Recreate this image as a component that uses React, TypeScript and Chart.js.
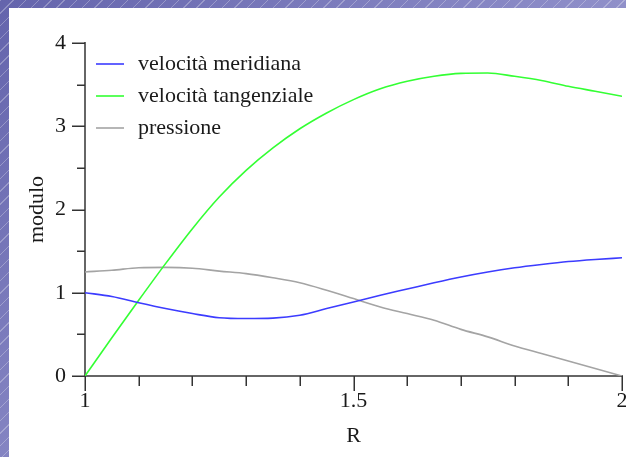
import React, { useEffect, useRef } from "react";
import { Chart, registerables } from "chart.js";

Chart.register(...registerables);

// ---- data ----
const R = [1.0, 1.05, 1.1, 1.15, 1.2, 1.25, 1.3, 1.35, 1.4, 1.45, 1.5, 1.55, 1.6, 1.65, 1.7, 1.75, 1.8, 1.85, 1.9, 1.95, 2.0];
const velMeridiana = [1.0, 0.955, 0.88, 0.81, 0.75, 0.7, 0.69, 0.695, 0.73, 0.81, 0.89, 0.97, 1.045, 1.12, 1.19, 1.25, 1.3, 1.34, 1.375, 1.4, 1.42];
const velTangenziale = [0, 0.46, 0.91, 1.35, 1.77, 2.15, 2.47, 2.74, 2.97, 3.16, 3.32, 3.45, 3.54, 3.6, 3.635, 3.64, 3.6, 3.55, 3.48, 3.42, 3.36];
const pressione = [1.25, 1.27, 1.3, 1.305, 1.295, 1.26, 1.23, 1.18, 1.12, 1.03, 0.93, 0.83, 0.75, 0.67, 0.56, 0.47, 0.36, 0.27, 0.18, 0.09, 0.0];
const SERIES_LABELS = ["velocità meridiana", "velocità tangenziale", "pressione"];
const SERIES_COLORS = ["#3c3cff", "#33ff33", "#a4a4a4"];
const X_MAJOR = [1, 1.5, 2];
const X_MINOR = [1.1, 1.2, 1.3, 1.4, 1.6, 1.7, 1.8, 1.9];
const Y_MAJOR = [0, 1, 2, 3, 4];
const Y_MINOR = [0.5, 1.5, 2.5, 3.5];
const X_TITLE = "R";
const Y_TITLE = "modulo";

const FONT = '"Liberation Serif", "Times New Roman", serif';
const TEXT_COLOR = "#1a1a1a";

const tickMarksPlugin = {
  id: "tickMarks",
  afterDraw(chart: any) {
    const { ctx, chartArea, scales } = chart;
    const x = scales.x;
    const y = scales.y;
    ctx.save();
    ctx.strokeStyle = "#333";
    ctx.lineWidth = 1.5;
    const vline = (px: number, len: number) => {
      const p = Math.round(px) + 0.25;
      ctx.beginPath();
      ctx.moveTo(p, chartArea.bottom);
      ctx.lineTo(p, chartArea.bottom + len);
      ctx.stroke();
    };
    const hline = (py: number, len: number) => {
      const p = Math.round(py) + 0.25;
      ctx.beginPath();
      ctx.moveTo(chartArea.left, p);
      ctx.lineTo(chartArea.left - len, p);
      ctx.stroke();
    };
    X_MAJOR.forEach((v) => vline(x.getPixelForValue(v), 15));
    X_MINOR.forEach((v) => vline(x.getPixelForValue(v), 10));
    Y_MAJOR.forEach((v) => hline(y.getPixelForValue(v), 13));
    Y_MINOR.forEach((v) => hline(y.getPixelForValue(v), 8));
    ctx.restore();
  },
};

const legendPlugin = {
  id: "innerLegend",
  afterDraw(chart: any) {
    const { ctx, chartArea } = chart;
    ctx.save();
    ctx.font = `22px ${FONT}`;
    ctx.textBaseline = "middle";
    ctx.textAlign = "left";
    chart.data.datasets.forEach((ds: any, i: number) => {
      const yy = chartArea.top + 21 + i * 32;
      ctx.strokeStyle = ds.borderColor;
      ctx.lineWidth = 1.6;
      ctx.beginPath();
      ctx.moveTo(chartArea.left + 11, yy);
      ctx.lineTo(chartArea.left + 39, yy);
      ctx.stroke();
      ctx.fillStyle = TEXT_COLOR;
      ctx.fillText(ds.label, chartArea.left + 53, yy);
    });
    ctx.restore();
  },
};

export default function App() {
  const canvasRef = useRef<HTMLCanvasElement | null>(null);

  useEffect(() => {
    const canvas = canvasRef.current;
    if (!canvas) return;
    const seriesValues = [velMeridiana, velTangenziale, pressione];
    const chart = new Chart(canvas, {
      type: "line",
      data: {
        datasets: seriesValues.map((vals, i) => ({
          label: SERIES_LABELS[i],
          data: R.map((r, k) => ({ x: r, y: vals[k] })),
          borderColor: SERIES_COLORS[i],
          backgroundColor: SERIES_COLORS[i],
          borderWidth: 1.6,
          pointRadius: 0,
          cubicInterpolationMode: "monotone",
          fill: false,
        })),
      },
      options: {
        animation: false,
        responsive: false,
        devicePixelRatio: 1,
        layout: { padding: { left: 0, top: 43, right: 18, bottom: 0 } },
        plugins: {
          legend: { display: false },
          tooltip: { enabled: false },
        },
        scales: {
          x: {
            type: "linear",
            min: 1,
            max: 2,
            afterFit: (s: any) => {
              s.height = 81;
            },
            ticks: {
              stepSize: 0.5,
              callback: (v: any) => String(v),
              font: { family: FONT, size: 22 },
              color: TEXT_COLOR,
              padding: 12,
              maxRotation: 0,
            },
            grid: { display: false, drawTicks: false },
            border: { display: true, color: "#666", width: 2 },
            title: {
              display: true,
              text: X_TITLE,
              font: { family: FONT, size: 22 },
              color: TEXT_COLOR,
              padding: { top: 0, bottom: 8 },
            },
          },
          y: {
            type: "linear",
            min: 0,
            max: 4,
            afterFit: (s: any) => {
              s.width = 85;
            },
            ticks: {
              stepSize: 1,
              font: { family: FONT, size: 22 },
              color: TEXT_COLOR,
              padding: 19,
            },
            grid: { display: false, drawTicks: false },
            border: { display: true, color: "#666", width: 2 },
            title: {
              display: true,
              text: Y_TITLE,
              font: { family: FONT, size: 22 },
              color: TEXT_COLOR,
              padding: { top: 24, bottom: 0 },
            },
          },
        },
      },
      plugins: [tickMarksPlugin, legendPlugin],
    } as any);
    return () => chart.destroy();
  }, []);

  return (
    <div
      style={{
        position: "fixed",
        left: 0,
        top: 0,
        width: 626,
        height: 457,
        overflow: "hidden",
        background:
          "repeating-linear-gradient(135deg, rgba(255,255,255,0.28) 0px, rgba(255,255,255,0.28) 1px, rgba(255,255,255,0) 1px, rgba(255,255,255,0) 9px), linear-gradient(135deg, #6464ac 0%, #8a8ac6 50%, #b0b0da 100%)",
      }}
    >
      <div
        style={{
          position: "absolute",
          left: 9,
          top: 8,
          right: 0,
          bottom: 0,
          background: "#ffffff",
        }}
      />
      <canvas
        ref={canvasRef}
        width={640}
        height={457}
        style={{ position: "absolute", left: 0, top: 0, width: 640, height: 457 }}
      />
    </div>
  );
}
